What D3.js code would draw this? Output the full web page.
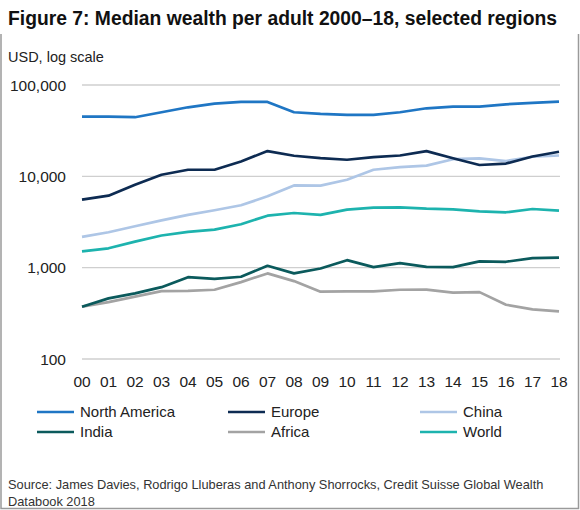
<!DOCTYPE html>
<html>
<head>
<meta charset="utf-8">
<script src="https://cdn.jsdelivr.net/npm/d3@7"></script>
<style>
  body { margin: 0; background: #fff; }
  svg { display: block; font-family: "Liberation Sans", Arial, Helvetica, sans-serif; }
</style>
</head>
<body>
<script>
// years shown on the x axis (2000-2018)
const years = ["00","01","02","03","04","05","06","07","08","09","10","11","12","13","14","15","16","17","18"];
const yTicks = [100, 1000, 10000, 100000];

// median wealth per adult, USD
const northAmerica = [45100, 45100, 44400, 50300, 57000, 62500, 65200, 65200, 50300, 48200, 47100, 47100, 50300, 55600, 58000, 58000, 61500, 63600, 65800];
const europe = [5550, 6140, 8090, 10400, 11800, 11800, 14560, 18900, 16800, 15800, 15200, 16200, 16900, 18900, 15800, 13300, 13800, 16500, 18600];
const china = [2170, 2440, 2840, 3300, 3780, 4250, 4820, 6040, 7960, 7920, 9180, 11800, 12600, 13100, 15400, 15700, 14700, 16400, 16900];
const india = [374, 461, 523, 612, 787, 755, 795, 1049, 865, 980, 1208, 1014, 1120, 1020, 1014, 1170, 1160, 1271, 1290];
const africa = [374, 420, 481, 554, 556, 573, 695, 865, 713, 546, 550, 550, 573, 576, 532, 540, 393, 350, 333];
const world = [1510, 1630, 1930, 2250, 2470, 2610, 2990, 3710, 3970, 3780, 4320, 4540, 4580, 4430, 4350, 4140, 4040, 4390, 4210];

const series = [
    {name: "North America", values: northAmerica, color: "#1f76c4"},
    {name: "Europe", values: europe, color: "#0d2b52"},
    {name: "China", values: china, color: "#aec6e6"},
    {name: "India", values: india, color: "#0b5a5c"},
    {name: "Africa", values: africa, color: "#a3a3a3"},
    {name: "World", values: world, color: "#1db3ae"}
];

const W = 580, H = 510;

const svg = d3.select("body").append("svg")
    .attr("width", W)
    .attr("height", H);

// frame round the chart
svg.append("path")
    .attr("d", "M1,34 V508.5 H578.5 V34")
    .attr("fill", "none")
    .attr("stroke", "#9a9a9a")
    .attr("stroke-width", 1.5);

svg.append("text")
    .attr("x", 8).attr("y", 25)
    .attr("font-size", 19.5)
    .attr("font-weight", "bold")
    .attr("fill", "#111")
    .attr("textLength", 549)
    .attr("lengthAdjust", "spacingAndGlyphs")
    .text("Figure 7: Median wealth per adult 2000–18, selected regions");

svg.append("text")
    .attr("x", 8).attr("y", 62)
    .attr("font-size", 14.5)
    .attr("fill", "#222")
    .text("USD, log scale");

const x = d3.scalePoint().domain(years).range([82, 559]);
const y = d3.scaleLog().domain([100, 100000]).range([359, 85]);

// grid lines + y labels
svg.append("g")
    .selectAll("line")
    .data(yTicks)
    .join("line")
        .attr("x1", 82).attr("x2", 560)
        .attr("y1", d => y(d)).attr("y2", d => y(d))
        .attr("stroke", "#cfcfcf")
        .attr("stroke-width", 1.3);

svg.append("g")
    .selectAll("text")
    .data(yTicks)
    .join("text")
        .attr("x", 66)
        .attr("y", d => y(d))
        .attr("dy", "0.36em")
        .attr("text-anchor", "end")
        .attr("font-size", 15.5)
        .attr("fill", "#222")
        .text(d => d3.format(",")(d));

// x labels
svg.append("g")
    .selectAll("text")
    .data(years)
    .join("text")
        .attr("x", d => x(d))
        .attr("y", 387)
        .attr("text-anchor", "middle")
        .attr("font-size", 15.5)
        .attr("fill", "#222")
        .text(d => d);

const line = d3.line()
    .x((d, i) => x(years[i]))
    .y(d => y(d));

// draw lighter ones first so dark lines sit on top
const order = ["Africa", "China", "World", "North America", "India", "Europe"];
svg.append("g")
    .selectAll("path")
    .data(order.map(n => series.find(s => s.name === n)))
    .join("path")
        .attr("d", d => line(d.values))
        .attr("fill", "none")
        .attr("stroke", d => d.color)
        .attr("stroke-width", 2.7)
        .attr("stroke-linejoin", "round");

// legend, 3 columns x 2 rows
const colX = [37, 228, 420];
const legend = svg.append("g")
    .selectAll("g")
    .data(series)
    .join("g")
        .attr("transform", (d, i) => `translate(${colX[i % 3]},${412 + Math.floor(i / 3) * 20})`);

legend.append("line")
    .attr("x1", 0).attr("x2", 37)
    .attr("stroke", d => d.color)
    .attr("stroke-width", 2.7);

legend.append("text")
    .attr("x", 43)
    .attr("dy", "0.36em")
    .attr("font-size", 15)
    .attr("fill", "#222")
    .text(d => d.name);

svg.append("text")
    .attr("x", 8).attr("y", 489)
    .attr("font-size", 12.8)
    .attr("fill", "#333")
    .text("Source: James Davies, Rodrigo Lluberas and Anthony Shorrocks, Credit Suisse Global Wealth");

svg.append("text")
    .attr("x", 8).attr("y", 506)
    .attr("font-size", 12.8)
    .attr("fill", "#333")
    .text("Databook 2018");
</script>
</body>
</html>
